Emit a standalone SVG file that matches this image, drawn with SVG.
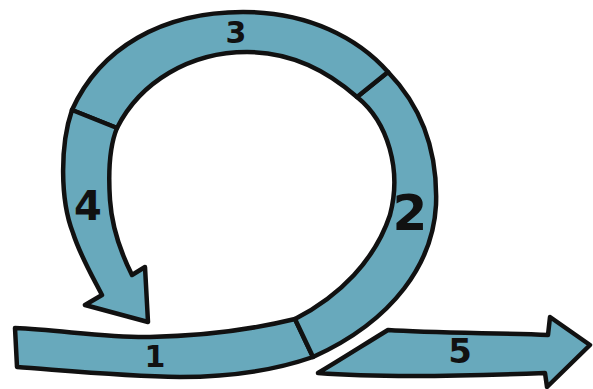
<svg xmlns="http://www.w3.org/2000/svg" width="593" height="389" viewBox="0 0 593 389">
<style>
.seg{fill:#68a9bc;stroke:#111;stroke-width:4.5;stroke-linejoin:round;stroke-linecap:round}
.lbl{font-family:"DejaVu Sans","Liberation Sans",sans-serif;font-weight:bold;fill:#111;text-anchor:middle}
</style>
<rect width="593" height="389" fill="#fff"/>
<g id="step1">
<path class="seg" d="M15,328 C60,330 110,338 150,337 C200,336 250,330 295,319 L313,357 C270,372 220,377 180,377 C120,376 60,370 17,367 Z"/>
<text class="lbl" x="155" y="367" font-size="30">1</text>
</g>
<g id="step2">
<path class="seg" d="M295,319 C340,296 375,260 390,215 C402,170 388,122 357,97 L388,72 C420,105 438,150 436,205 C433,262 395,320 313,357 Z"/>
<text class="lbl" x="410" y="230" font-size="50">2</text>
</g>
<g id="step3">
<path class="seg" d="M357,97 C322,66 285,52 247,52 C190,52 140,82 117,128 L72,110 C100,48 162,12 243,12 C308,12 358,38 388,72 Z"/>
<text class="lbl" x="236" y="43" font-size="30">3</text>
</g>
<g id="step4">
<path class="seg" d="M72,110 C60,145 60,200 73,233 C80,255 90,272 102,295 L85,305 L148,322 L145,267 L132,275 C122,255 112,230 110,200 C108,170 110,145 117,128 Z"/>
<text class="lbl" x="88" y="220" font-size="40">4</text>
</g>
<g id="step5">
<path class="seg" d="M318,373 C340,360 365,344 388,330 C430,333 500,333 548,335 L550,317 L590,345 L547,387 L545,373 C470,376 380,378 318,373 Z"/>
<text class="lbl" x="460" y="363" font-size="34">5</text>
</g>
<g id="connectors"/>
</svg>
